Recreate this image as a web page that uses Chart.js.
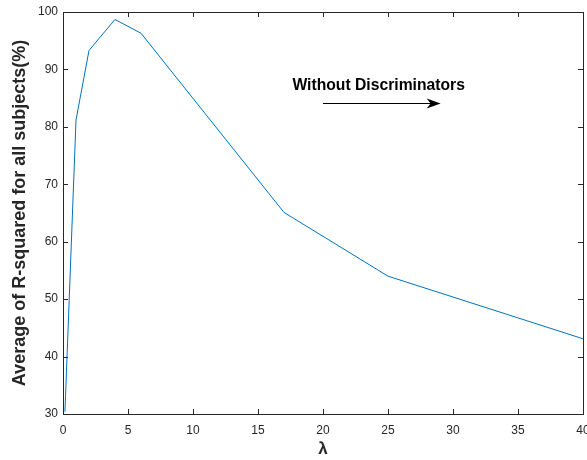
<!DOCTYPE html>
<html>
<head>
<meta charset="utf-8">
<title>R-squared vs lambda</title>
<script src="https://cdn.jsdelivr.net/npm/chart.js@4.4.1/dist/chart.umd.min.js"></script>
<style>
  html, body { margin: 0; padding: 0; background: #fff; }
  #wrap { width: 587px; height: 460px; }
</style>
</head>
<body>
<div id="wrap"><canvas id="chart" width="587" height="460"></canvas></div>
<script>
// 数据
const lambdaValues = [0.15, 1, 2, 4, 6, 17, 25, 40];
const rSquaredValues = [30.4, 81.2, 93.3, 98.7, 96.3, 65.1, 54.0, 43.1];
const xTicks = [0, 5, 10, 15, 20, 25, 30, 35, 40];
const yTicks = [30, 40, 50, 60, 70, 80, 90, 100];

// 标注（数据坐标）
const noteText = 'Without Discriminators';
const notePos = { x: 17.65, y: 87.2 };
const arrowFrom = { x: 20, y: 84.1 };
const arrowTo = { x: 29.05, y: 84.1 };

const AXIS_COLOR = '#262626';
const LINE_COLOR = '#0072BD';
const FONT = '"Liberation Sans", Arial, Helvetica, sans-serif';

// 坐标框 + 向内刻度
const boxPlugin = {
  id: 'boxPlugin',
  afterDraw(chart) {
    const { ctx, chartArea: a, scales } = chart;
    const len = 5;
    ctx.save();
    ctx.strokeStyle = AXIS_COLOR;
    ctx.lineWidth = 1;
    ctx.strokeRect(Math.round(a.left) + 0.5, Math.round(a.top) + 0.5,
      Math.round(a.right - a.left), Math.round(a.bottom - a.top));
    ctx.beginPath();
    xTicks.forEach(v => {
      const px = Math.round(scales.x.getPixelForValue(v)) + 0.5;
      ctx.moveTo(px, a.bottom); ctx.lineTo(px, a.bottom - len);
      ctx.moveTo(px, a.top); ctx.lineTo(px, a.top + len);
    });
    yTicks.forEach(v => {
      const py = Math.round(scales.y.getPixelForValue(v)) + 0.5;
      ctx.moveTo(a.left, py); ctx.lineTo(a.left + len, py);
      ctx.moveTo(a.right, py); ctx.lineTo(a.right - len, py);
    });
    ctx.stroke();

    // 文字标注
    ctx.fillStyle = '#000';
    ctx.font = 'bold 15.7px ' + FONT;
    ctx.textBaseline = 'middle';
    ctx.textAlign = 'left';
    ctx.fillText(noteText, scales.x.getPixelForValue(notePos.x), scales.y.getPixelForValue(notePos.y));

    // 箭头
    const x1 = scales.x.getPixelForValue(arrowFrom.x);
    const y1 = Math.round(scales.y.getPixelForValue(arrowFrom.y)) + 0.5;
    const x2 = scales.x.getPixelForValue(arrowTo.x);
    ctx.strokeStyle = '#000';
    ctx.beginPath();
    ctx.moveTo(x1, y1); ctx.lineTo(x2 - 6, y1);
    ctx.stroke();
    ctx.beginPath();
    ctx.moveTo(x2, y1);
    ctx.lineTo(x2 - 14, y1 - 5);
    ctx.lineTo(x2 - 10, y1);
    ctx.lineTo(x2 - 14, y1 + 5);
    ctx.closePath();
    ctx.fill();
    ctx.restore();
  }
};

new Chart(document.getElementById('chart'), {
  type: 'line',
  data: {
    datasets: [{
      data: lambdaValues.map((x, i) => ({ x, y: rSquaredValues[i] })),
      borderColor: LINE_COLOR,
      borderWidth: 1,
      pointRadius: 0,
      tension: 0,
      fill: false
    }]
  },
  options: {
    responsive: false,
    animation: false,
    layout: { padding: { top: 12, right: 4, left: 0, bottom: 0 } },
    plugins: { legend: { display: false }, tooltip: { enabled: false } },
    scales: {
      x: {
        type: 'linear',
        min: 0, max: 40,
        afterBuildTicks(scale) { scale.ticks = xTicks.map(v => ({ value: v })); },
        afterFit(scale) {
          scale.height = 46;
          // 最后一个刻度标签允许超出画布
          scale.paddingLeft = 0;
          scale.paddingRight = 0;
        },
        grid: { display: false, drawTicks: false },
        border: { display: false },
        ticks: { color: AXIS_COLOR, font: { family: FONT, size: 12 }, padding: 9, maxRotation: 0 },
        title: { display: true, text: 'λ', color: AXIS_COLOR, font: { family: FONT, size: 17, weight: 'bold' }, padding: 0 }
      },
      y: {
        min: 30, max: 100,
        afterBuildTicks(scale) { scale.ticks = yTicks.map(v => ({ value: v })); },
        afterFit(scale) { scale.width = 63; scale.paddingTop = 0; scale.paddingBottom = 0; },
        grid: { display: false, drawTicks: false },
        border: { display: false },
        ticks: { color: AXIS_COLOR, font: { family: FONT, size: 12 }, padding: 5 },
        title: {
          display: true, text: 'Average of R-squared for all subjects(%)', color: AXIS_COLOR,
          font: { family: FONT, size: 18, weight: 'bold' }, padding: { top: 9, bottom: 0 }
        }
      }
    }
  },
  plugins: [boxPlugin]
});
</script>
</body>
</html>
